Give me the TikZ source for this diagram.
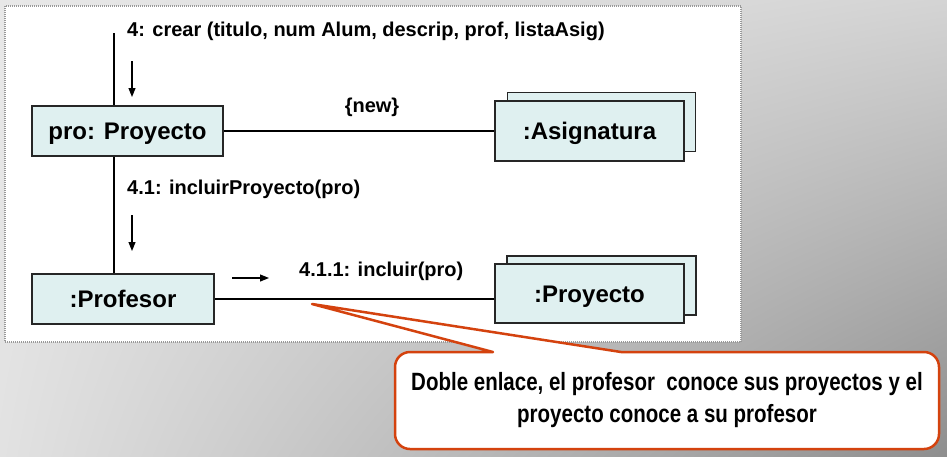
\documentclass[tikz,border=0pt]{standalone}
\usepackage{fontspec}
\setmainfont{Liberation Sans}
\newfontfamily\notefont[FakeStretch=0.82]{Liberation Sans Bold}
\usepackage{xcolor}
\usetikzlibrary{calc, arrows.meta, shadings}
\definecolor{boxfill}{RGB}{223,240,240}
\definecolor{noteline}{RGB}{212,66,14}
\definecolor{bgul}{RGB}{232,232,232}
\definecolor{bgur}{RGB}{212,212,212}
\definecolor{bgll}{RGB}{226,226,226}
\definecolor{bglr}{RGB}{142,142,142}
\tikzset{
    obj/.style={draw=black!85, line width=1.5pt, fill=boxfill, inner sep=0pt,
        text height=17.5pt, text depth=0pt, font=\fontsize{24}{28}\selectfont\bfseries},
    link/.style={line width=1.6pt},
    msg/.style={anchor=base west, inner sep=0pt, font=\fontsize{20}{24}\selectfont\bfseries},
    dir/.style={line width=1.1pt, -{Triangle[length=9pt,width=7pt]}}
}

\begin{document}
\begin{tikzpicture}[x=1pt,y=-1pt]
    \useasboundingbox (0,0) rectangle (947,456);
    \shade[upper left=bgul, upper right=bgur, lower left=bgll, lower right=bglr] (0,0) rectangle (947,456);
    \draw[gray!80, line width=1.2pt, dash pattern=on 1pt off 1pt, fill=white] (5,6) rectangle (741,342);
    % objetos
    \node[obj, minimum width=191, minimum height=50] (pro) at (127.5,131) {pro: Proyecto};
    \node[obj, minimum width=188, minimum height=59] (asigb) at (601.5,122) {};
    \node[obj, minimum width=189, minimum height=60] (asig) at (589.5,131) {:Asignatura};
    \node[obj, minimum width=182, minimum height=50] (prof) at (123,299) {:Profesor};
    \node[obj, minimum width=189, minimum height=59] (proyb) at (601.5,285.5) {};
    \node[obj, minimum width=189, minimum height=59] (proy) at (589.5,293.5) {:Proyecto};
    % enlaces
    \coordinate (top) at (114,33);
    \draw[link] (top) -- (top |- pro.north);
    \draw[link] (pro.south -| top) -- (prof.north -| top);
    \draw[link] (pro.east) -- (pro.east -| asig.west);
    \draw[link] (prof.east) -- (prof.east -| proy.west);
    % mensajes
    \node[msg] (m4) at (127,36) {4: crear (titulo, num Alum, descrip, prof, listaAsig)};
    \coordinate (d1) at (132,61);
    \coordinate (d1e) at (132,97);
    \draw[dir] (d1) -- (d1e);
    \node[anchor=base, inner sep=0pt, font=\fontsize{20}{24}\selectfont\bfseries] (new) at (372,112) {\{new\}};
    \node[msg] (m41) at (127,194) {4.1: incluirProyecto(pro)};
    \coordinate (d2) at (132,215);
    \coordinate (d2e) at (132,251);
    \draw[dir] (d2) -- (d2e);
    \node[msg] (m411) at (299,276) {4.1.1: incluir(pro)};
    \coordinate (d3) at (232,278);
    \coordinate (d3e) at (269,278);
    \draw[dir] (d3) -- (d3e);
    % nota
    \coordinate (tip) at (312,304);
    \draw[noteline, line width=2.5pt, fill=white, line join=round] (tip) -- (621,352) -- (924,352)
        arc[start angle=-90, end angle=0, radius=15] -- (939,434)
        arc[start angle=0, end angle=90, radius=15] -- (410,449)
        arc[start angle=90, end angle=180, radius=15] -- (395,367)
        arc[start angle=180, end angle=270, radius=15] -- (493,352) -- cycle;
    \node[align=center, inner sep=0pt, font=\notefont\fontsize{25}{32}\selectfont] (note) at (667,400)
        {Doble enlace, el profesor\ \ conoce sus proyectos y el\\proyecto conoce a su profesor};
\end{tikzpicture}
\end{document}
